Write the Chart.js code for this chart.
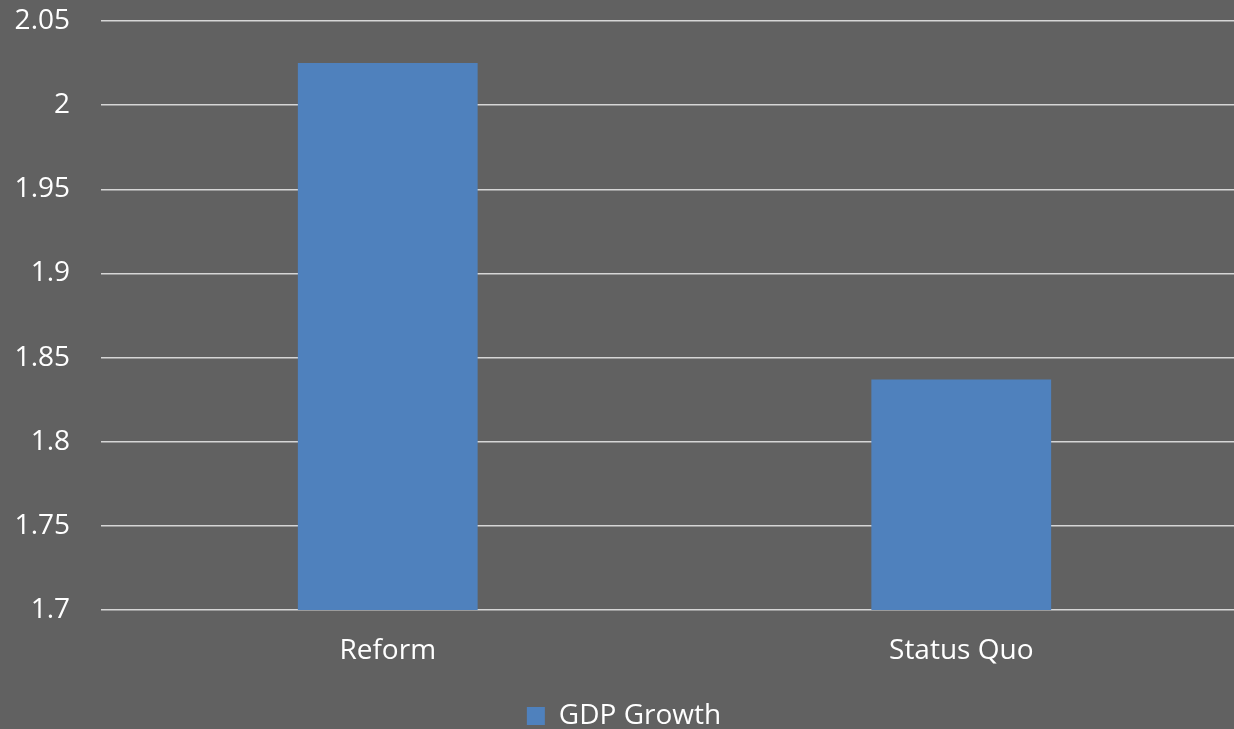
<!DOCTYPE html>
<html>
<head>
<meta charset="utf-8">
<script src="https://cdn.jsdelivr.net/npm/chart.js@4"></script>
<style>
    html, body { margin: 0; padding: 0; background: #616161; overflow: hidden; }
    #wrap { width: 1234px; height: 729px; overflow: hidden; }
</style>
</head>
<body>
<div id="wrap"><canvas id="barChart" width="1282" height="740"></canvas></div>
<script>
// GDP growth by scenario
const categories = ['Reform', 'Status Quo'];
const gdpGrowth = [2.025, 1.837];
const yTicks = [1.7, 1.75, 1.8, 1.85, 1.9, 1.95, 2, 2.05];

document.addEventListener('DOMContentLoaded', function() {
    const textColor = '#ffffff';
    const font = { family: '"Open Sans", sans-serif', size: 28 };

    const ctx = document.getElementById('barChart').getContext('2d');
    new Chart(ctx, {
        type: 'bar',
        data: {
            labels: categories,
            datasets: [{
                label: 'GDP Growth',
                data: gdpGrowth,
                backgroundColor: '#4F81BD',
                borderWidth: 0,
                categoryPercentage: 1,
                barPercentage: 0.3135
            }]
        },
        plugins: [{
            id: 'bg',
            beforeDraw(chart) {
                const c = chart.ctx;
                c.save();
                c.fillStyle = '#616161';
                c.fillRect(0, 0, chart.width, chart.height);
                c.restore();
            }
        }],
        options: {
            responsive: false,
            animation: false,
            layout: { padding: { top: 21, right: 34, left: 0, bottom: 0 } },
            plugins: {
                tooltip: { enabled: false },
                legend: {
                    position: 'bottom',
                    labels: {
                        color: textColor,
                        font: font,
                        boxWidth: 18,
                        boxHeight: 18,
                        padding: 6
                    }
                }
            },
            scales: {
                x: {
                    grid: { display: false },
                    border: { display: false },
                    afterFit(scale) {
                        scale.height = 86;
                    },
                    ticks: { color: textColor, font: font, padding: 16, maxRotation: 0 }
                },
                y: {
                    min: yTicks[0],
                    max: yTicks[yTicks.length - 1],
                    afterBuildTicks(scale) {
                        scale.ticks = yTicks.map(v => ({ value: v }));
                    },
                    afterFit(scale) {
                        scale.width = 101;
                        scale.paddingTop = 0;
                        scale.paddingBottom = 0;
                    },
                    grid: { color: '#d6d6d6', lineWidth: 1.5, drawTicks: false },
                    border: { display: false },
                    ticks: {
                        color: textColor,
                        font: font,
                        padding: 31,
                        callback: v => String(+v.toFixed(2))
                    }
                }
            }
        }
    });
});
</script>
</body>
</html>
